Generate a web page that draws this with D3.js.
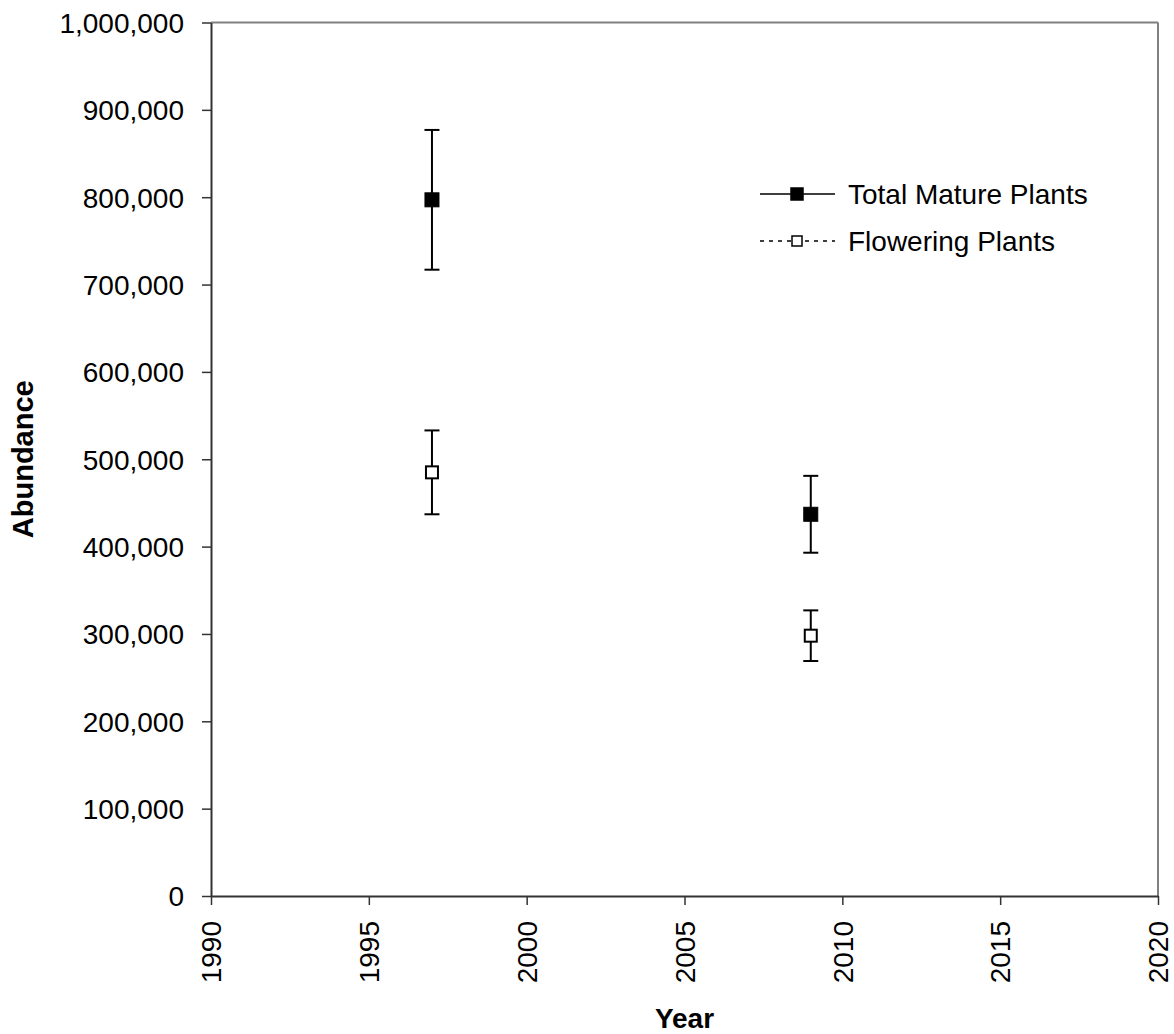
<!DOCTYPE html>
<html>
<head>
<meta charset="utf-8">
<script src="https://cdn.jsdelivr.net/npm/d3@7"></script>
<style>
  html, body { margin: 0; padding: 0; background: #fff; }
  text { font-family: "Liberation Sans", Arial, sans-serif; fill: #000; }
</style>
</head>
<body>
<svg id="chart" width="1174" height="1034"></svg>
<script>
// ---- data ----
const years = [1997, 2009];
const totalMature = [797000, 437000];
const totalMatureErr = [80000, 44000];
const flowering = [485000, 298000];
const floweringErr = [48000, 29000];
const xTicks = [1990, 1995, 2000, 2005, 2010, 2015, 2020];
const yTicks = [0, 100000, 200000, 300000, 400000, 500000, 600000, 700000, 800000, 900000, 1000000];
const seriesNames = ["Total Mature Plants", "Flowering Plants"];

const svg = d3.select("#chart");
const m = { left: 211, right: 1158, top: 22.5, bottom: 896 };

const x = d3.scaleLinear().domain([1990, 2020]).range([m.left, m.right]);
const y = d3.scaleLinear().domain([0, 1000000]).range([m.bottom, m.top]);

// plot frame (top & right in gray)
svg.append("line").attr("x1", m.left).attr("x2", m.right).attr("y1", m.top).attr("y2", m.top)
  .attr("stroke", "#808080").attr("stroke-width", 2);
svg.append("line").attr("x1", m.right).attr("x2", m.right).attr("y1", m.top).attr("y2", m.bottom)
  .attr("stroke", "#808080").attr("stroke-width", 2);

// y axis
const yAxis = svg.append("g").attr("transform", `translate(${m.left},0)`)
  .call(d3.axisLeft(y).tickValues(yTicks).tickSize(9).tickSizeOuter(0).tickPadding(18)
    .tickFormat(d3.format(",")));
// x axis
const xAxis = svg.append("g").attr("transform", `translate(0,${m.bottom})`)
  .call(d3.axisBottom(x).tickValues(xTicks).tickSize(9).tickSizeOuter(0).tickFormat(d3.format("d")));

[yAxis, xAxis].forEach(g => {
  g.select(".domain").attr("stroke", "#333").attr("stroke-width", 2);
  g.selectAll(".tick line").attr("stroke", "#333").attr("stroke-width", 1.5);
  g.selectAll("text").style("font-size", "28px").attr("fill", "#000")
    .style("font-family", '"Liberation Sans", Arial, sans-serif');
});
yAxis.selectAll("text").attr("dy", "0.35em");
xAxis.selectAll("text")
  .attr("transform", "rotate(-90)")
  .attr("text-anchor", "end")
  .attr("x", -25)
  .attr("y", 0)
  .attr("dy", "0.35em");

// axis titles
svg.append("text").attr("x", (m.left + m.right) / 2).attr("y", 1028)
  .attr("text-anchor", "middle").style("font-size", "28px").style("font-weight", "bold").text("Year");
svg.append("text").attr("transform", `translate(33,${(m.top + m.bottom) / 2}) rotate(-90)`)
  .attr("text-anchor", "middle").style("font-size", "29px").style("font-weight", "bold").text("Abundance");

// error bars + markers
function drawSeries(vals, errs, filled, size) {
  const g = svg.append("g");
  years.forEach((yr, i) => {
    const cx = x(yr);
    const lo = y(vals[i] - errs[i]), hi = y(vals[i] + errs[i]);
    g.append("line").attr("x1", cx).attr("x2", cx).attr("y1", lo).attr("y2", hi)
      .attr("stroke", "#000").attr("stroke-width", 2);
    [lo, hi].forEach(yy => g.append("line").attr("x1", cx - 7.5).attr("x2", cx + 7.5)
      .attr("y1", yy).attr("y2", yy).attr("stroke", "#000").attr("stroke-width", 2));
    g.append("rect").attr("x", cx - size / 2).attr("y", y(vals[i]) - size / 2)
      .attr("width", size).attr("height", size)
      .attr("fill", filled ? "#000" : "#fff").attr("stroke", "#000").attr("stroke-width", filled ? 1 : 2);
  });
}
drawSeries(flowering, floweringErr, false, 12);
drawSeries(totalMature, totalMatureErr, true, 14);

// legend
const legend = svg.append("g");
const legRows = [
  { name: seriesNames[0], filled: true, dash: null, y: 194, size: 12 },
  { name: seriesNames[1], filled: false, dash: "4,5", y: 241, size: 10 }
];
legRows.forEach(r => {
  legend.append("line").attr("x1", 760).attr("x2", 835).attr("y1", r.y).attr("y2", r.y)
    .attr("stroke", "#000").attr("stroke-width", 1.5).attr("stroke-dasharray", r.dash);
  legend.append("rect").attr("x", 797 - r.size / 2).attr("y", r.y - r.size / 2)
    .attr("width", r.size).attr("height", r.size)
    .attr("fill", r.filled ? "#000" : "#fff").attr("stroke", "#000").attr("stroke-width", 1.5);
  legend.append("text").attr("x", 848).attr("y", r.y).attr("dy", "0.35em")
    .style("font-size", "28px").text(r.name);
});
</script>
</body>
</html>
